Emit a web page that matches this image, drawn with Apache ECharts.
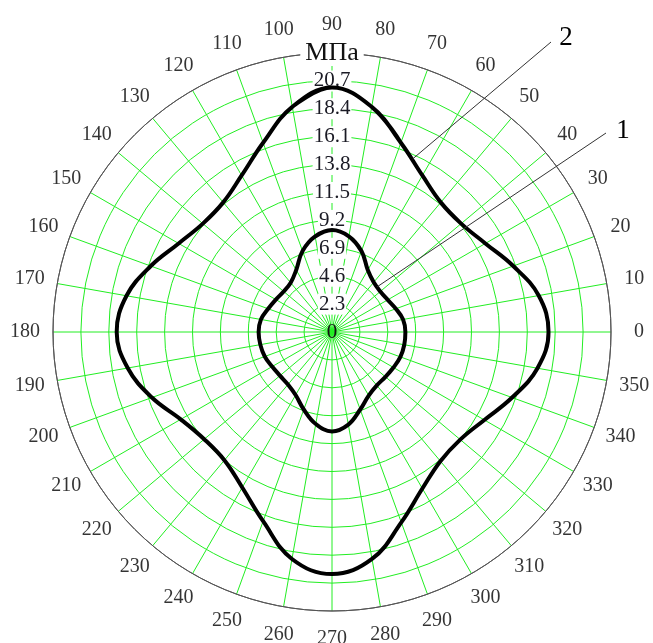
<!DOCTYPE html>
<html>
<head>
<meta charset="utf-8">
<script src="https://cdn.jsdelivr.net/npm/echarts@6/dist/echarts.min.js"></script>
<style>
  html, body { margin: 0; padding: 0; background: #fff; }
  #chart { width: 653px; height: 643px; }
</style>
</head>
<body>
<div id="chart"></div>
<script>
// Polar angles (degrees) at which both stress curves are sampled
const angles = [0, 10, 20, 30, 40, 50, 60, 70, 80, 90, 100, 110, 120, 130, 140, 150, 160, 170,
                180, 190, 200, 210, 220, 230, 240, 250, 260, 270, 280, 290, 300, 310, 320, 330, 340, 350];

// Curve 1 — inner stress distribution, MPa
const stress1 = [6.05, 5.95, 5.6, 5.3, 5.2, 5.35, 5.9, 7.1, 8.0, 8.4, 8.0, 7.1, 5.9, 5.3, 5.2, 5.35, 5.6, 5.95,
                 6.05, 6.0, 5.9, 5.7, 5.6, 5.65, 6.0, 6.8, 7.7, 8.2, 7.75, 6.8, 6.05, 5.75, 5.75, 5.85, 6.0, 6.05];

// Curve 2 — outer stress distribution, MPa
const stress2 = [17.85, 17.3, 15.9, 14.6, 13.9, 13.95, 14.9, 16.6, 18.85, 20.15, 18.85, 16.6, 14.9, 13.95, 13.9, 14.6, 15.9, 17.2,
                 17.75, 17.1, 15.8, 14.4, 13.75, 13.8, 14.8, 16.6, 19.0, 19.95, 19.0, 16.7, 14.9, 13.9, 13.8, 14.5, 15.8, 17.2];

// Radial scale: rings every 2.3 MPa up to 23
const radiusMax = 23;
const radiusStep = 2.3;
const radiusUnit = 'МПа';

// Angle tick labels around the rim
const angleTickLabels = angles.map(a => String(a));

// Curve labels with the angle where each leader line touches its curve
const curveLabels = ['1', '2'];
const leaderAngles = [45, 65];

const GREEN = '#22ee22';
const RIM = '#555555';
const FONT = "'Liberation Serif', 'Times New Roman', serif";
const CENTER = [332, 332];
const RADIUS = 279;
const LABEL_RING = radiusMax * 307 / RADIUS;   // rim labels sit ~28px outside the rim

// The angle axis starts at 90 so the radial labels run straight up;
// angles below 90 are carried round to 360..450.
function toAxisAngle(a) { return a < 90 ? a + 360 : a; }

// Closed loop: a couple of points are repeated on both ends so the smoothed path has no seam
function closedLoop(values) {
  const pts = angles.map((a, i) => [values[i], toAxisAngle(a)]).sort((p, q) => p[1] - q[1]);
  const head = pts.slice(0, 2).map(p => [p[0], p[1] + 360]);
  const tail = pts.slice(-2).map(p => [p[0], p[1] - 360]);
  return tail.concat(pts, head);
}

function valueAt(values, a) {
  const i = Math.floor(a / 10) % angles.length;
  const t = (a - angles[i]) / 10;
  return values[i] * (1 - t) + values[(i + 1) % angles.length] * t;
}

const ringColors = [];
for (let v = 0; v < Math.round(radiusMax / radiusStep); v++) ringColors.push(GREEN);
ringColors.push(RIM);

const chart = echarts.init(document.getElementById('chart'), null, { renderer: 'canvas' });

const option = {
  backgroundColor: '#ffffff',
  animation: false,
  polar: { center: CENTER, radius: RADIUS },
  angleAxis: {
    type: 'value',
    startAngle: 90,
    min: 90,
    max: 450,
    interval: 10,
    clockwise: false,
    z: 0,
    axisLine: { show: true, lineStyle: { color: RIM, width: 1 } },
    axisTick: { show: false },
    axisLabel: { show: false },
    splitLine: { show: true, lineStyle: { color: GREEN, width: 1 } }
  },
  radiusAxis: {
    type: 'value',
    min: 0,
    max: radiusMax,
    interval: radiusStep,
    z: 1,
    axisLine: { show: false },
    axisTick: { show: false },
    splitLine: { show: true, lineStyle: { color: ringColors, width: 1 } },
    axisLabel: {
      show: true,
      margin: 0,
      align: 'center',
      verticalAlign: 'middle',
      formatter: v => {
        if (v === 0) return '{o|0}';
        if (v >= radiusMax - 0.01) return '{u|' + radiusUnit + '}';
        return '{n|' + v.toFixed(1) + '}';
      },
      rich: {
        o: { fontFamily: FONT, fontSize: 21, color: '#111' },
        n: { fontFamily: FONT, fontSize: 21, color: '#1a1a24', backgroundColor: '#ffffff', padding: [0, 1] },
        u: { fontFamily: FONT, fontSize: 26, color: '#111', backgroundColor: '#ffffff', padding: [0, 5] }
      }
    }
  },
  series: [
    {
      name: curveLabels[0],
      type: 'line',
      coordinateSystem: 'polar',
      data: closedLoop(stress1),
      smooth: 0.4,
      showSymbol: false,
      clip: false,
      z: 5,
      lineStyle: { color: '#000', width: 4 }
    },
    {
      name: curveLabels[1],
      type: 'line',
      coordinateSystem: 'polar',
      data: closedLoop(stress2),
      smooth: 0.4,
      showSymbol: false,
      clip: false,
      z: 5,
      lineStyle: { color: '#000', width: 4 }
    },
    {
      // rim labels, centred on a ring just outside the plot
      type: 'scatter',
      coordinateSystem: 'polar',
      clip: false,
      silent: true,
      symbol: 'circle',
      symbolSize: 1,
      itemStyle: { color: 'rgba(0,0,0,0)' },
      data: angles.map(a => [LABEL_RING, toAxisAngle(a)]),
      label: {
        show: true,
        position: 'inside',
        align: 'center',
        verticalAlign: 'middle',
        formatter: p => angleTickLabels[p.dataIndex],
        fontFamily: FONT,
        fontSize: 20,
        color: '#000'
      }
    }
  ]
};

chart.setOption(option);

// Leader lines from the curve labels down to their curves
const leaderEnds = [[606, 133], [551, 42]];
const leaderTextPos = [[623, 131], [566, 38]];
const graphics = [];
[stress1, stress2].forEach((vals, s) => {
  const a = leaderAngles[s];
  const onCurve = chart.convertToPixel({ seriesIndex: s }, [valueAt(vals, a), toAxisAngle(a)]);
  graphics.push({
    type: 'line',
    z: 10,
    shape: { x1: onCurve[0], y1: onCurve[1], x2: leaderEnds[s][0], y2: leaderEnds[s][1] },
    style: { stroke: '#333', lineWidth: 1 }
  });
  graphics.push({
    type: 'text',
    z: 10,
    x: leaderTextPos[s][0],
    y: leaderTextPos[s][1],
    style: {
      text: curveLabels[s],
      fill: '#000',
      font: '27px ' + FONT,
      align: 'center',
      verticalAlign: 'middle'
    }
  });
});
chart.setOption({ graphic: graphics });
</script>
</body>
</html>
